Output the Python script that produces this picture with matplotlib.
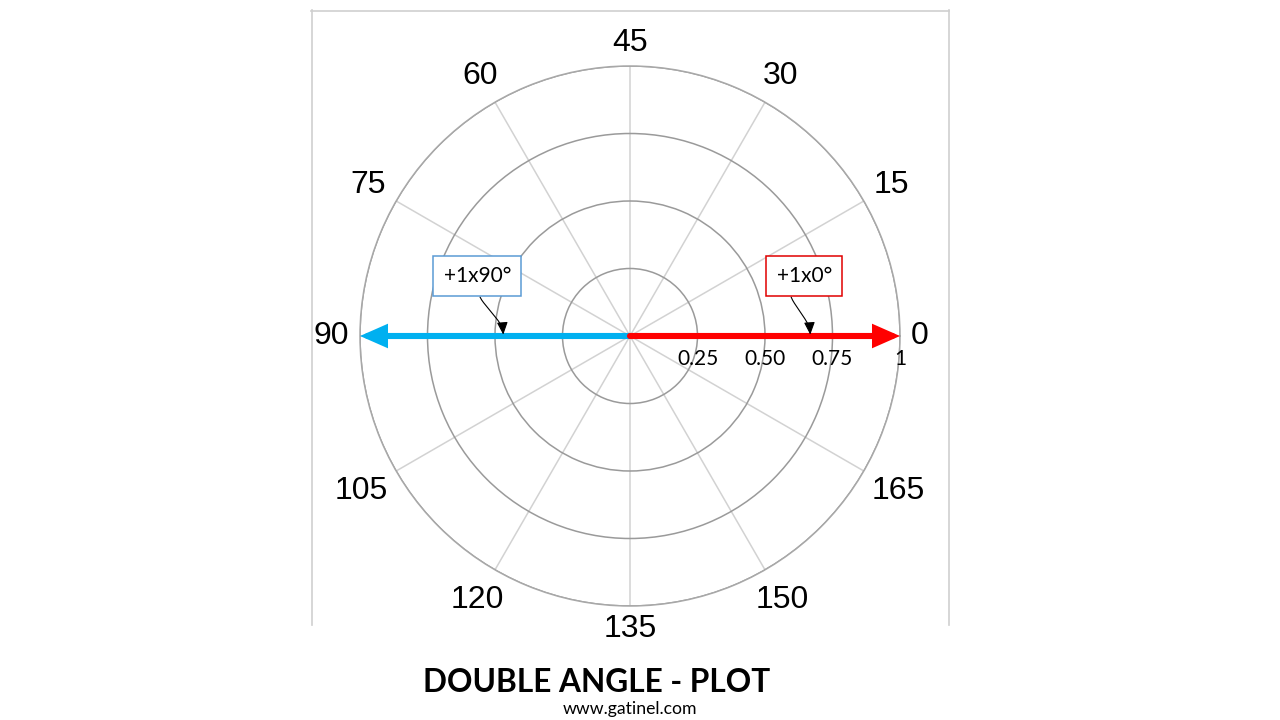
import numpy as np
import matplotlib
matplotlib.use("Agg")
import matplotlib.pyplot as plt
from matplotlib.lines import Line2D

# double-angle grid: axis value k is drawn at polar angle 2k
axis_labels = ["0", "15", "30", "45", "60", "75", "90", "105", "120", "135", "150", "165"]
axis_values = [0, 15, 30, 45, 60, 75, 90, 105, 120, 135, 150, 165]
ring_values = [0.25, 0.50, 0.75, 1.0]
ring_labels = ["0.25", "0.50", "0.75", "1"]

# vectors (axis in degrees, magnitude)
vec_names = ["+1x90°", "+1x0°"]
vec_axis = [90, 0]
vec_mag = [1.0, 1.0]
vec_colors = ["#00B0F0", "#FF0000"]
box_edges = ["#5B9BD5", "#E00000"]
callout_r = [0.469, 0.668]

LABEL_FONT = ["Liberation Sans", "DejaVu Sans"]
TEXT_FONT = ["Lato", "DejaVu Sans"]

fig = plt.figure(figsize=(12.8, 7.2), dpi=100)

# light frame around the plot area (top, left, right)
W, H = 1280.0, 720.0
frame_c = "#cfcfcf"
for xs, ys in [((311, 949), (10.5, 10.5)), ((311.5, 311.5), (10, 625)), ((949, 949), (10, 625))]:
    fig.add_artist(Line2D([x / W for x in xs], [1 - y / H for y in ys],
                          color=frame_c, lw=1.2, transform=fig.transFigure))

ax = fig.add_axes([(630 - 270) / W, (720 - 336 - 270) / H, 540 / W, 540 / H], projection="polar")
ax.set_ylim(0, 1)
ax.set_yticks(ring_values)
ax.set_yticklabels([])
ax.set_xticks(np.radians([2 * v for v in axis_values]))
ax.set_xticklabels([])
ax.yaxis.grid(True, color="#9a9a9a", lw=1.1)
ax.xaxis.grid(True, color="#d2d2d2", lw=1.1)
ax.spines["polar"].set_color("#a8a8a8")
ax.spines["polar"].set_linewidth(1.1)

# angle labels: keep a fixed gap between the outer ring and the text box
angle_texts = []
for v, lab in zip(axis_values, axis_labels):
    t = ax.annotate(lab, xy=(np.radians(2 * v), 1.0), xytext=(0, 0), textcoords="offset pixels",
                    ha="center", va="center", fontsize=23, family=LABEL_FONT,
                    annotation_clip=False)
    angle_texts.append((t, np.radians(2 * v)))
fig.canvas.draw()
renderer = fig.canvas.get_renderer()
gap = 11
for t, th in angle_texts:
    bb = t.get_window_extent(renderer)
    ext = abs(np.cos(th)) * bb.width / 2 + abs(np.sin(th)) * 12
    d = gap + ext
    t.xyann = (d * np.cos(th), d * np.sin(th))

# radial value labels just below the 0 axis
for r, lab in zip(ring_values, ring_labels):
    ax.annotate(lab, xy=(0, r), xytext=(0, -23), textcoords="offset pixels",
                ha="center", va="center", fontsize=15, family=TEXT_FONT)

# vectors
for ang, mag, c in zip(vec_axis, vec_mag, vec_colors):
    ax.annotate("", xy=(np.radians(2 * ang), mag), xytext=(0, 0),
                arrowprops=dict(arrowstyle="-|>,head_length=1.25,head_width=0.55",
                                color=c, lw=4.4, shrinkA=0, shrinkB=0, mutation_scale=10,
                                joinstyle="miter"))

# callout boxes
offsets = [(-26, 60), (-6, 60)]
relpos = [(0.5, 0.0), (0.22, 0.0)]
for name, ang, r, ec, off, rp in zip(vec_names, vec_axis, callout_r, box_edges, offsets, relpos):
    ax.annotate(name, xy=(np.radians(2 * ang), r), xytext=off, textcoords="offset pixels",
                ha="center", va="center", fontsize=15, family=TEXT_FONT,
                bbox=dict(boxstyle="square,pad=0.5", fc="white", ec=ec, lw=1.1),
                arrowprops=dict(arrowstyle="-|>,head_length=0.5,head_width=0.22",
                                color="black", lw=0.8, relpos=rp, shrinkA=0, shrinkB=1,
                                connectionstyle="arc,angleA=-90,angleB=90,armA=9,armB=9,rad=10"))

fig.text(597 / W, 1 - 683 / H, "DOUBLE ANGLE - PLOT", ha="center", va="center",
         fontsize=22.8, fontweight="bold", family=TEXT_FONT)
fig.text(630 / W, 1 - 709 / H, "www.gatinel.com", ha="center", va="center",
         fontsize=12.7, family=TEXT_FONT)

fig.savefig("out.png", dpi=100)
